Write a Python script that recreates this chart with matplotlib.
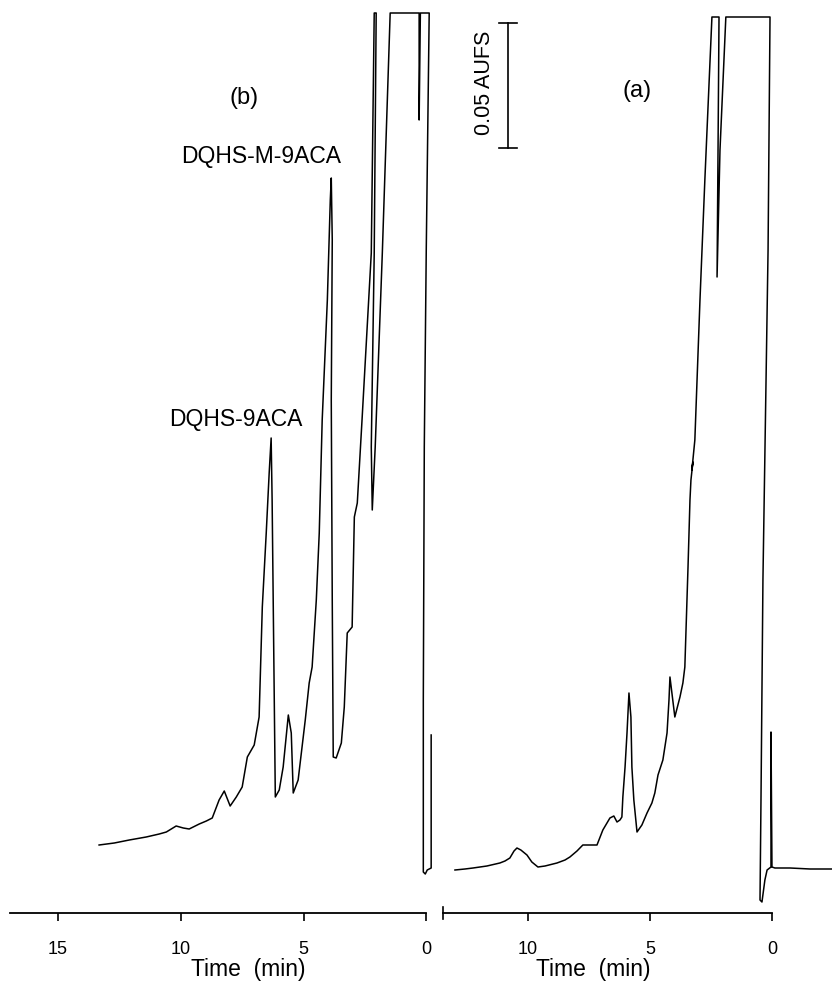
import matplotlib
matplotlib.use('Agg')
import matplotlib.pyplot as plt

plt.rcParams['font.family'] = ['Liberation Sans', 'DejaVu Sans']

# chromatogram (b): retention time (min) vs response (mAU), pen trace incl. off-scale box
time_b = [13.33, 12.71, 12.10, 11.41, 10.88, 10.59, 10.19, 9.90, 9.66, 9.25,
          8.96, 8.72, 8.44, 8.23, 7.99, 7.74, 7.50, 7.29, 7.01, 6.81,
          6.68, 6.52, 6.40, 6.32, 6.28, 6.15, 5.99, 5.83, 5.62, 5.50,
          5.42, 5.22, 4.93, 4.77, 4.65, 4.48, 4.36, 4.24, 4.03, 3.91,
          3.87, 3.83, 3.87, 3.83, 3.79, 3.67, 3.46, 3.34, 3.22, 3.02,
          2.93, 2.81, 2.61, 2.24, 2.12, 2.04, 2.12, 2.24, 2.20, 2.08,
          1.79, 1.47, 0.29, 0.29, 0.24, -0.12, 0.00, 0.08, 0.12, 0.12,
          0.04, -0.04, -0.20, -0.20]
abs_b = [27.2, 28.0, 29.2, 30.4, 31.6, 32.4, 34.8, 34.0, 33.6, 35.6,
         36.8, 38.0, 45.2, 48.8, 42.8, 46.4, 50.4, 62.4, 67.2, 78.4,
         122.4, 152.0, 176.0, 190.0, 165.2, 46.4, 49.2, 58.4, 79.2, 72.0,
         48.0, 53.2, 77.2, 92.0, 98.4, 125.2, 152.0, 197.2, 245.2, 285.2,
         294.0, 269.2, 205.2, 125.2, 62.4, 62.0, 68.0, 82.4, 112.0, 114.4,
         158.4, 164.0, 198.4, 264.0, 360.0, 360.0, 264.0, 186.4, 161.2, 186.4,
         264.0, 360.0, 360.0, 317.2, 360.0, 360.0, 265.2, 186.4, 85.2, 16.4,
         15.6, 17.2, 18.0, 71.2]

# chromatogram (a)
time_a = [12.99, 12.58, 12.25, 11.68, 11.15, 10.94, 10.74, 10.57, 10.45, 10.29,
          10.04, 9.84, 9.59, 9.30, 8.81, 8.48, 8.28, 7.99, 7.75, 7.46,
          7.17, 6.93, 6.64, 6.48, 6.35, 6.23, 6.15, 6.11, 6.02, 5.94,
          5.86, 5.82, 5.78, 5.74, 5.66, 5.53, 5.33, 5.12, 4.92, 4.80,
          4.67, 4.47, 4.30, 4.22, 4.18, 4.10, 3.98, 3.77, 3.65, 3.57,
          3.44, 3.36, 3.32, 3.24, 3.28, 3.16, 2.95, 2.75, 2.46, 2.17,
          2.21, 2.25, 2.13, 1.89, 0.08, 0.16, 0.37, 0.45, 0.49, 0.41,
          0.29, 0.20, 0.04, 0.04, 0.00, -0.12, -0.74, -1.56, -2.46]
abs_a = [17.2, 17.6, 18.0, 18.8, 20.0, 20.8, 22.0, 24.8, 26.0, 25.2,
         23.2, 20.4, 18.4, 18.8, 20.0, 21.2, 22.4, 24.8, 27.2, 27.2,
         27.2, 33.2, 38.0, 38.8, 36.4, 37.2, 38.4, 46.4, 58.4, 72.0,
         88.0, 83.2, 78.4, 58.4, 45.2, 32.4, 35.2, 40.0, 44.0, 48.0,
         55.2, 61.2, 72.0, 85.2, 94.4, 88.0, 78.4, 86.4, 92.0, 98.4,
         138.4, 165.2, 173.2, 180.4, 177.2, 189.2, 245.2, 293.2, 358.4, 358.4,
         305.2, 254.4, 305.2, 358.4, 358.4, 265.2, 133.2, 45.2, 5.2, 4.4,
         13.2, 17.2, 18.4, 72.4, 18.4, 18.0, 18.0, 17.6, 17.6]

ticks_b = [15, 10, 5, 0]
ticks_a = [10, 5, 0]

peak_labels = ['DQHS-9ACA', 'DQHS-M-9ACA']
peak_label_pos = [(7.74, 197.6), (6.72, 302.4)]

scale_bar = (10.82, 306.0, 356.0)   # time, bottom, top  (0.05 AU = 50 mAU)

W, H = 832, 988
BASE = 913          # pixel row of the time axis
YMAX = 365.2


def make_axes(fig, x0, x1, xlim, span, ticks, xlabel_x):
    ax = fig.add_axes([x0 / W, (H - BASE) / H, (x1 - x0) / W, BASE / H])
    ax.set_xlim(*xlim)
    ax.set_ylim(0, YMAX)
    for side in ['left', 'right', 'top']:
        ax.spines[side].set_visible(False)
    ax.spines['bottom'].set_bounds(0, span)
    ax.spines['bottom'].set_linewidth(1.3)
    ax.set_yticks([])
    ax.set_xticks(ticks)
    ax.set_xticklabels([str(t) for t in ticks])
    ax.tick_params(axis='x', direction='out', length=6, width=1.2,
                   pad=14, labelsize=13)
    ax.set_xlabel('Time  (min)', fontsize=16.5)
    ax.xaxis.set_label_coords(xlabel_x, -0.062)
    ax.xaxis.label.set_va('center')
    ax.patch.set_alpha(0)
    return ax


def draw_plot():
    fig = plt.figure(figsize=(W / 100, H / 100), dpi=100)

    ax_b = make_axes(fig, 10, 440, (16.96, -0.56), 16.96, ticks_b, 0.553)
    ax_a = make_axes(fig, 443, 832, (13.48, -2.46), 13.48, ticks_a, 0.386)

    # little end cap at the start of the right-hand time axis
    ax_a.plot([13.48, 13.48], [-2.5, 2.5], color='black', lw=1.2, clip_on=False)

    ax_b.plot(time_b, abs_b, color='black', lw=1.1, clip_on=False)
    ax_a.plot(time_a, abs_a, color='black', lw=1.1, clip_on=False)

    ax_b.text(7.42, 326, '(b)', fontsize=17, ha='center', va='center')
    ax_a.text(5.53, 328.8, '(a)', fontsize=17, ha='center', va='center')

    for label, (t, y) in zip(peak_labels, peak_label_pos):
        ax_b.text(t, y, label, fontsize=16.5, ha='center', va='center')

    # 0.05 AUFS scale bar
    t, lo, hi = scale_bar
    ax_a.plot([t, t], [lo, hi], color='black', lw=1.2)
    for y in (lo, hi):
        ax_a.plot([t + 0.37, t - 0.37], [y, y], color='black', lw=1.2)
    ax_a.text(11.76, (lo + hi) / 2 + 1, '0.05 AUFS', fontsize=15.5, rotation=90,
              ha='center', va='center')

    fig.savefig('out.png', dpi=100)


if __name__ == '__main__':
    draw_plot()
